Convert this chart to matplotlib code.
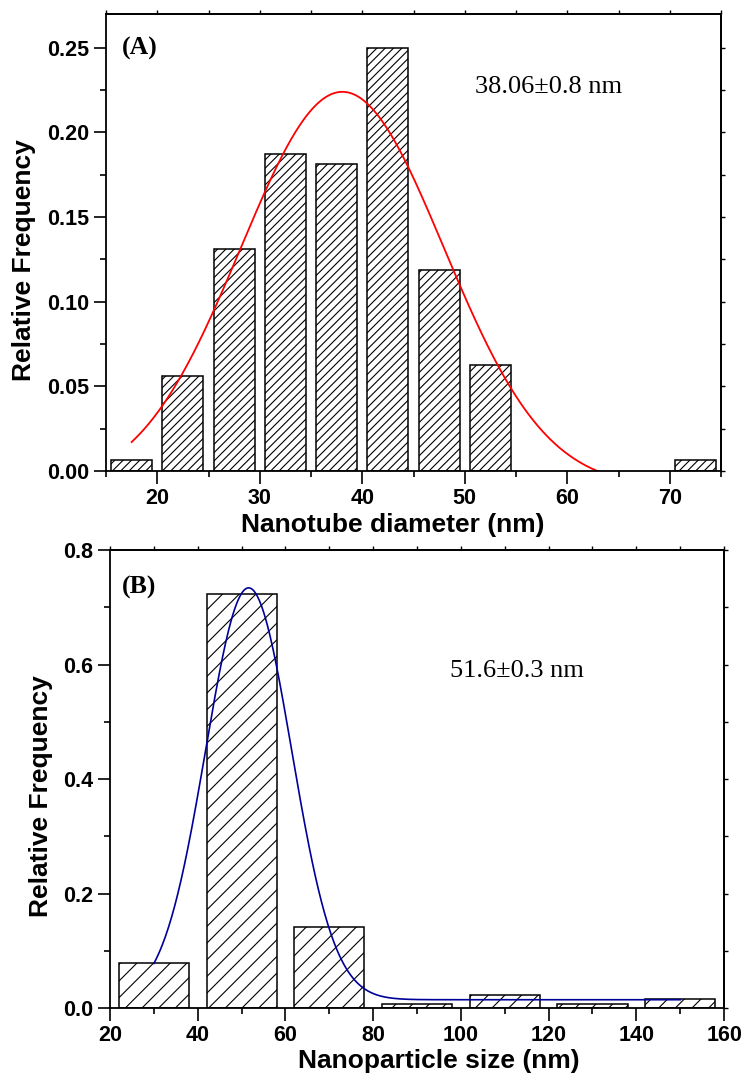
import numpy as np
import matplotlib
matplotlib.use('Agg')
import matplotlib.pyplot as plt
from matplotlib.ticker import MultipleLocator

## Panel A: diametro de nanotubos (frecuencia relativa por intervalo)
centros_a = [17.5, 22.5, 27.5, 32.5, 37.5, 42.5, 47.5, 52.5, 72.5]
frec_a = [0.00625, 0.05625, 0.13125, 0.1875, 0.18125, 0.25, 0.11875, 0.0625, 0.00625]
xc_a, sigma_a, amp_a, y0_a = 38.06, 9.9, 0.234, -0.010
texto_a = '38.06\u00b10.8 nm'

## Panel B: tamano de nanoparticulas
centros_b = [30, 50, 70, 90, 110, 130, 150]
frec_b = [0.078, 0.724, 0.142, 0.0078, 0.0235, 0.0078, 0.0156]
xc_b, sigma_b, amp_b, y0_b = 51.6, 9.8, 0.7195, 0.0145
texto_b = '51.6\u00b10.3 nm'

plt.rcParams['font.family'] = ['Liberation Sans', 'DejaVu Sans']
plt.rcParams['font.weight'] = 'bold'
plt.rcParams['hatch.linewidth'] = 0.8
plt.rcParams['axes.linewidth'] = 1.3

fig = plt.figure(figsize=(7.47, 10.75), dpi=100)
ax1 = fig.add_axes([0.1419, 0.5619, 0.8233, 0.4251])
ax2 = fig.add_axes([0.1473, 0.0623, 0.8220, 0.4260])


def gauss(x, xc, s, a, y0):
    return y0 + a * np.exp(-(x - xc) ** 2 / (2 * s ** 2))


def estilo(ax, xmaj, xmin, ymaj, ymin):
    ax.xaxis.set_major_locator(MultipleLocator(xmaj))
    ax.xaxis.set_minor_locator(MultipleLocator(xmin))
    ax.yaxis.set_major_locator(MultipleLocator(ymaj))
    ax.yaxis.set_minor_locator(MultipleLocator(ymin))
    ax.tick_params(which='major', direction='out', length=9, width=1.2,
                   labelsize=15.5, pad=3)
    ax.tick_params(which='minor', direction='out', length=4, width=1.2)
    for lab in ax.get_xticklabels() + ax.get_yticklabels():
        lab.set_fontweight('bold')
    # marcas pequenas arriba y a la derecha
    sx = ax.secondary_xaxis('top')
    sx.xaxis.set_major_locator(MultipleLocator(xmin))
    sx.tick_params(direction='out', length=3, width=1.0, labeltop=False)
    sy = ax.secondary_yaxis('right')
    sy.yaxis.set_major_locator(MultipleLocator(ymin))
    sy.tick_params(direction='out', length=3, width=1.0, labelright=False)


## --- Panel A
ax1.bar(centros_a, frec_a, width=4, facecolor='white', edgecolor='black',
        hatch='////', linewidth=1.1)
xa = np.linspace(centros_a[0], centros_a[-1], 500)
ax1.plot(xa, gauss(xa, xc_a, sigma_a, amp_a, y0_a), color='#ff0000', lw=1.3)
ax1.set_xlim(15, 75)
ax1.set_ylim(0, 0.270)
estilo(ax1, 10, 5, 0.05, 0.025)
ax1.yaxis.set_major_formatter(matplotlib.ticker.FormatStrFormatter('%.2f'))
ax1.set_xlabel('Nanotube diameter (nm)', fontsize=19, fontweight='bold')
ax1.set_ylabel('Relative Frequency', fontsize=19, fontweight='bold')
ax1.xaxis.set_label_coords(0.467, -0.092)
ax1.yaxis.set_label_coords(-0.114, 0.462)
ax1.text(0.026, 0.9256, '(A)', transform=ax1.transAxes, ha='left', va='center',
         fontsize=18.5, fontweight='bold', family='Liberation Serif')
ax1.text(0.600, 0.840, texto_a, transform=ax1.transAxes, ha='left', va='center',
         fontsize=19, fontweight='normal', family='Liberation Serif')

## --- Panel B
ax2.bar(centros_b, frec_b, width=16, facecolor='white', edgecolor='black',
        hatch='//', linewidth=1.1)
xb = np.linspace(centros_b[0], centros_b[-1], 500)
ax2.plot(xb, gauss(xb, xc_b, sigma_b, amp_b, y0_b), color='#000099', lw=1.2)
ax2.set_xlim(20, 160)
ax2.set_ylim(0, 0.8)
estilo(ax2, 20, 10, 0.2, 0.1)
ax2.set_xlabel('Nanoparticle size (nm)', fontsize=19, fontweight='bold')
ax2.set_ylabel('Relative Frequency', fontsize=19, fontweight='bold')
ax2.xaxis.set_label_coords(0.536, -0.0895)
ax2.yaxis.set_label_coords(-0.093, 0.463)
ax2.text(0.020, 0.918, '(B)', transform=ax2.transAxes, ha='left', va='center',
         fontsize=18.5, fontweight='bold', family='Liberation Serif')
ax2.text(0.554, 0.736, texto_b, transform=ax2.transAxes, ha='left', va='center',
         fontsize=19, fontweight='normal', family='Liberation Serif')

fig.savefig('out.png', dpi=100)
